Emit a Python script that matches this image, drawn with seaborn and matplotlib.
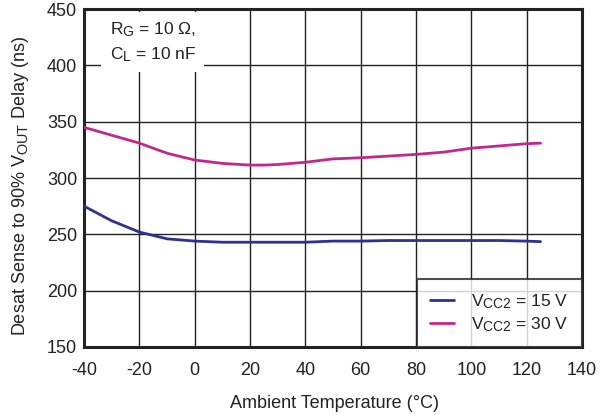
import matplotlib
matplotlib.use("Agg")
import matplotlib.pyplot as plt
import matplotlib._mathtext as mathtext_internal
import seaborn as sns
import pandas as pd

# Ambient temperature sweep (°C)
temp = [-40, -30, -20, -10, 0, 10, 20, 25, 30, 40, 50, 60, 70, 80, 90, 100, 110, 120, 125]
# Desat sense to 90% VOUT delay (ns)
delay_15v = [275, 262, 252, 246, 244, 243, 243, 243, 243, 243, 244, 244, 244.5, 244.5, 244.5, 244.5, 244.5, 244, 243.5]
delay_30v = [345, 338, 331, 322, 316, 313, 311.5, 311.5, 312, 314, 317, 318, 319.5, 321, 323, 326.5, 328.5, 330.5, 331]

labels = ["V$_{\\mathregular{CC2}}$ = 15 V", "V$_{\\mathregular{CC2}}$ = 30 V"]
colors = ["#2E3192", "#C0288F"]

df = pd.concat([
    pd.DataFrame({"temp": temp, "delay": delay_15v, "supply": labels[0]}),
    pd.DataFrame({"temp": temp, "delay": delay_30v, "supply": labels[1]}),
])

sns.set_style("white")
plt.rcParams["font.family"] = ["Liberation Sans", "DejaVu Sans"]
plt.rcParams["mathtext.fontset"] = "custom"
plt.rcParams["mathtext.rm"] = "Liberation Sans"
plt.rcParams["mathtext.it"] = "Liberation Sans"
plt.rcParams["axes.unicode_minus"] = False
# slightly larger subscripts
mathtext_internal.SHRINK_FACTOR = 0.8

ink = "#222222"
fs = 13

fig = plt.figure(figsize=(6.05, 4.15), dpi=100)
ax = fig.add_axes([0.139, 0.164, 0.823, 0.814])

sns.lineplot(data=df, x="temp", y="delay", hue="supply", palette=colors,
             linewidth=2, ax=ax, legend=True, zorder=3)

ax.set_xlim(-40, 140)
ax.set_ylim(150, 450)
ax.set_xticks(range(-40, 141, 20))
ax.set_yticks(range(150, 451, 50))
ax.grid(True, color=ink, linewidth=1.0)
ax.set_axisbelow(True)
for s in ax.spines.values():
    s.set_color(ink)
    s.set_linewidth(2.2)
ax.tick_params(length=0, labelsize=fs, colors=ink)
ax.tick_params(axis="x", pad=11)
ax.tick_params(axis="y", pad=5)

ax.set_xlabel("Ambient Temperature (°C)", fontsize=fs, color=ink,
              ha="center", va="center")
ax.set_ylabel("Desat Sense to 90% V$_{\\mathregular{OUT}}$ Delay (ns)", fontsize=fs,
              color=ink, ha="center", va="center", rotation_mode="anchor")
ax.xaxis.set_label_coords(0.502, -0.166)
ax.yaxis.set_label_coords(-0.1285, 0.476)

ax.text(-30.8, 440, "R$_{\\mathregular{G}}$ = 10 Ω,\nC$_{\\mathregular{L}}$ = 10 nF",
        fontsize=12.5, va="top", ha="left", linespacing=1.45, color=ink,
        bbox=dict(facecolor="white", edgecolor="none", pad=6), zorder=4)

leg = ax.legend(loc="lower right", borderaxespad=0, fontsize=12.5, frameon=True,
                fancybox=False, edgecolor=ink, handlelength=1.4,
                borderpad=0.75, labelspacing=0.25, handletextpad=1.0)
leg.get_frame().set_linewidth(1.5)
leg.set_title(None)
for t in leg.get_texts():
    t.set_color(ink)

fig.savefig("out.png", dpi=100)
